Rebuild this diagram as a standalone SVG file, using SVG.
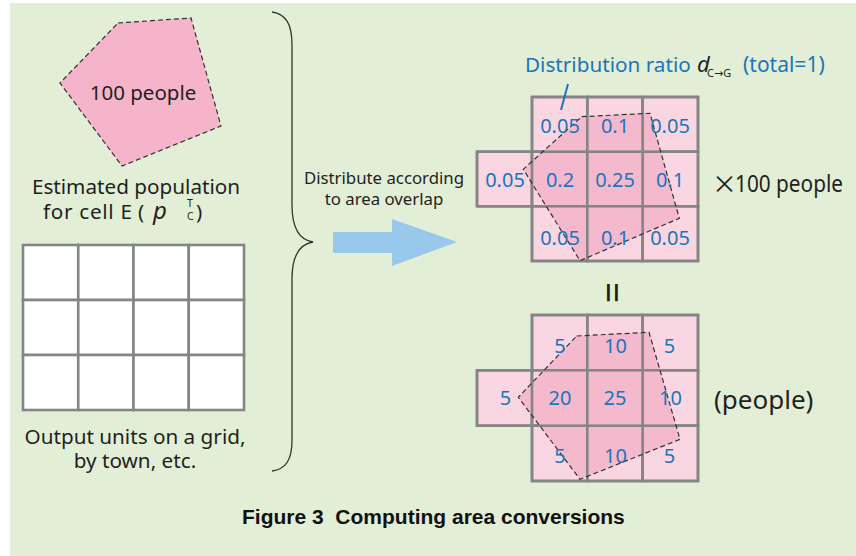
<svg xmlns="http://www.w3.org/2000/svg" width="856" height="556" viewBox="0 0 856 556">
<style>
.t{font-family:"Noto Sans","Open Sans","DejaVu Sans",sans-serif;fill:#231f20}
.b{font-family:"Noto Sans","Open Sans","DejaVu Sans",sans-serif;fill:#1b75bb}
.num{font-family:"Noto Sans","Open Sans","DejaVu Sans",sans-serif;fill:#1b75bb;font-size:20px;text-anchor:middle}
.cap{font-family:"Liberation Sans",Arial,sans-serif;font-weight:bold;fill:#111}
.cell{fill:#f9d6e2;stroke:#858585;stroke-width:2.6}
.wcell{fill:#ffffff;stroke:#858585;stroke-width:2.6}
.pf{fill:#f5b4c9}
.pd{fill:none;stroke:#333;stroke-width:1.2;stroke-dasharray:5 3}
</style>
<rect x="10" y="3" width="846" height="553" fill="#e2efd6"/>

<g id="source-polygon">
<polygon points="118,23 191,18 221,126 122,166 60,83" class="pf"/>
<polygon points="118,23 191,18 221,126 122,166 60,83" class="pd"/>
<text class="t" x="143" y="100" font-size="20.5" text-anchor="middle">100 people</text>
</g>

<g id="source-label">
<text class="t" x="136" y="194" font-size="20.7" text-anchor="middle">Estimated population</text>
<text class="t" x="43" y="219" font-size="20.7" textLength="89" lengthAdjust="spacing">for cell E</text>
<text class="t" x="138" y="219" font-size="20.7">(</text>
<text class="t" x="153" y="219" font-size="24" font-style="italic">p</text>
<text class="t" x="187" y="207" font-size="10.5">T</text>
<text class="t" x="187" y="220" font-size="10.5">C</text>
<text class="t" x="196" y="219" font-size="20.7">)</text>
</g>

<g id="output-grid">
<rect class="wcell" x="23" y="245" width="55.25" height="55"/>
<rect class="wcell" x="78.25" y="245" width="55.25" height="55"/>
<rect class="wcell" x="133.5" y="245" width="55.25" height="55"/>
<rect class="wcell" x="188.75" y="245" width="55.25" height="55"/>
<rect class="wcell" x="23" y="300" width="55.25" height="55"/>
<rect class="wcell" x="78.25" y="300" width="55.25" height="55"/>
<rect class="wcell" x="133.5" y="300" width="55.25" height="55"/>
<rect class="wcell" x="188.75" y="300" width="55.25" height="55"/>
<rect class="wcell" x="23" y="355" width="55.25" height="55"/>
<rect class="wcell" x="78.25" y="355" width="55.25" height="55"/>
<rect class="wcell" x="133.5" y="355" width="55.25" height="55"/>
<rect class="wcell" x="188.75" y="355" width="55.25" height="55"/>
<text class="t" x="135" y="444" font-size="20.7" text-anchor="middle">Output units on a grid,</text>
<text class="t" x="135" y="468" font-size="20.7" text-anchor="middle">by town, etc.</text>
</g>

<g id="arrow-label">
<text class="t" x="384" y="184" font-size="16.8" text-anchor="middle">Distribute according</text>
<text class="t" x="384" y="205" font-size="16.8" text-anchor="middle">to area overlap</text>
</g>

<g id="ratio-label">
<text class="b" x="525" y="72" font-size="20.7">Distribution ratio</text>
<text class="t" x="697" y="72" font-size="22" font-style="italic">d</text>
<text class="t" x="707" y="77" font-size="11" fill="#333">C→G</text>
<text class="b" x="743" y="72" font-size="21">(total=1)</text>
</g>

<g id="ratio-grid">
<rect class="cell" x="532" y="97" width="55.3" height="54.7"/>
<rect class="cell" x="587.3" y="97" width="55.4" height="54.7"/>
<rect class="cell" x="642.7" y="97" width="55.3" height="54.7"/>
<rect class="cell" x="477" y="151.7" width="55" height="54.6"/>
<rect class="cell" x="532" y="151.7" width="55.3" height="54.6"/>
<rect class="cell" x="587.3" y="151.7" width="55.4" height="54.6"/>
<rect class="cell" x="642.7" y="151.7" width="55.3" height="54.6"/>
<rect class="cell" x="532" y="206.3" width="55.3" height="54.7"/>
<rect class="cell" x="587.3" y="206.3" width="55.4" height="54.7"/>
<rect class="cell" x="642.7" y="206.3" width="55.3" height="54.7"/>
<polygon points="581.7,116.7 650,113.3 679.3,218.3 580,260.7 523.3,169.3" class="pf" opacity="0.85"/>
<g fill="none" stroke="#858585" stroke-width="2.6">
<rect x="532" y="97" width="166" height="164"/>
<line x1="587.3" y1="97" x2="587.3" y2="261"/>
<line x1="642.7" y1="97" x2="642.7" y2="261"/>
<line x1="477" y1="151.7" x2="698" y2="151.7"/>
<line x1="477" y1="206.3" x2="698" y2="206.3"/>
<line x1="477" y1="151.7" x2="477" y2="206.3"/>
</g>
<polygon points="581.7,116.7 650,113.3 679.3,218.3 580,260.7 523.3,169.3" class="pd"/>
<text class="num" x="560" y="133">0.05</text>
<text class="num" x="615" y="133">0.1</text>
<text class="num" x="670" y="133">0.05</text>
<text class="num" x="505" y="187">0.05</text>
<text class="num" x="560" y="187">0.2</text>
<text class="num" x="615" y="187">0.25</text>
<text class="num" x="670" y="187">0.1</text>
<text class="num" x="560" y="245">0.05</text>
<text class="num" x="615" y="245">0.1</text>
<text class="num" x="670" y="245">0.05</text>
</g>

<g id="multiplier">
<text class="t" x="712" y="193" font-size="25" style="font-family:'Noto Sans CJK JP','Noto Sans',sans-serif">×</text>
<text class="t" x="735" y="192" font-size="23" textLength="108" lengthAdjust="spacingAndGlyphs">100 people</text>
</g>

<g id="equals">
<text class="t" x="613.5" y="292.5" font-size="38" text-anchor="middle" dominant-baseline="central" transform="rotate(90 613.5 292.5)">=</text>
</g>

<g id="people-grid">
<rect class="cell" x="532" y="315" width="55.3" height="55.3"/>
<rect class="cell" x="587.3" y="315" width="55.4" height="55.3"/>
<rect class="cell" x="642.7" y="315" width="55.3" height="55.3"/>
<rect class="cell" x="477" y="370.3" width="55" height="55.4"/>
<rect class="cell" x="532" y="370.3" width="55.3" height="55.4"/>
<rect class="cell" x="587.3" y="370.3" width="55.4" height="55.4"/>
<rect class="cell" x="642.7" y="370.3" width="55.3" height="55.4"/>
<rect class="cell" x="532" y="425.7" width="55.3" height="55.3"/>
<rect class="cell" x="587.3" y="425.7" width="55.4" height="55.3"/>
<rect class="cell" x="642.7" y="425.7" width="55.3" height="55.3"/>
<polygon points="576.7,336 649,332.3 680,439.3 580,479.3 518.3,397.3" class="pf" opacity="0.85"/>
<g fill="none" stroke="#858585" stroke-width="2.6">
<rect x="532" y="315" width="166" height="166"/>
<line x1="587.3" y1="315" x2="587.3" y2="481"/>
<line x1="642.7" y1="315" x2="642.7" y2="481"/>
<line x1="477" y1="370.3" x2="698" y2="370.3"/>
<line x1="477" y1="425.7" x2="698" y2="425.7"/>
<line x1="477" y1="370.3" x2="477" y2="425.7"/>
</g>
<polygon points="576.7,336 649,332.3 680,439.3 580,479.3 518.3,397.3" class="pd"/>
<text class="num" x="560" y="353">5</text>
<text class="num" x="615.5" y="353">10</text>
<text class="num" x="669.5" y="353">5</text>
<text class="num" x="505.5" y="405">5</text>
<text class="num" x="560" y="405">20</text>
<text class="num" x="615" y="405">25</text>
<text class="num" x="670.5" y="405">10</text>
<text class="num" x="560" y="463">5</text>
<text class="num" x="615.5" y="463">10</text>
<text class="num" x="669.5" y="463">5</text>
</g>

<g id="people-unit">
<text class="t" x="714" y="409" font-size="26">(people)</text>
</g>

<g id="caption">
<text class="cap" x="242" y="523.5" font-size="21" xml:space="preserve">Figure 3  Computing area conversions</text>
</g>

<g id="connectors">
<path d="M272,12 C286,14 292,24 292,45 L292,205 C292,228 300,240 313,242 C300,244 292,256 292,279 L292,440 C292,460 286,469 272,471" fill="none" stroke="#333" stroke-width="1.3"/>
<polygon points="333,232 392,232 392,219 457,242 392,266 392,253 333,253" fill="#98c8ec"/>
<line x1="568" y1="84" x2="561" y2="110" stroke="#1b75bb" stroke-width="2"/>
</g>
</svg>
